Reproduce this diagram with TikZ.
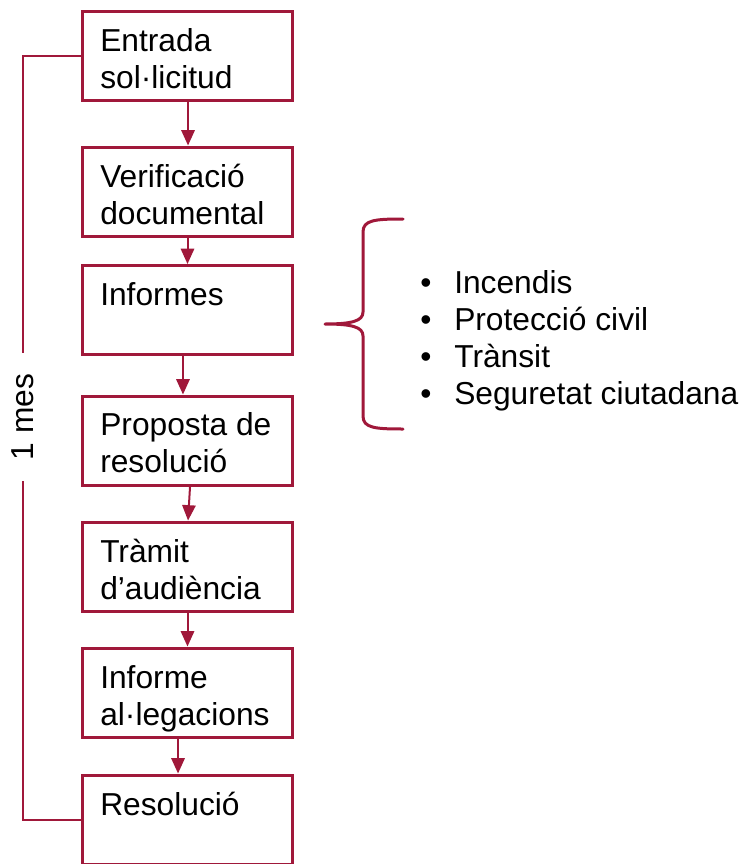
\documentclass[tikz,border=0pt]{standalone}
\usepackage{fontspec}
\setmainfont{Liberation Sans}
\usetikzlibrary{arrows.meta}
\definecolor{crim}{RGB}{160,24,58}
\begin{document}
\begin{tikzpicture}[x=0.75pt,y=-0.75pt,
  box/.style={draw=crim,line width=2.25pt,minimum width=157.5pt,minimum height=66.75pt,inner sep=0pt},
  txt/.style={anchor=base west,inner sep=0pt,font=\fontsize{23.8pt}{28.3pt}\selectfont},
  arr/.style={draw=crim,line width=1.5pt,-{Triangle[width=10pt,length=11.5pt]}},
  thinl/.style={draw=crim,line width=1.5pt},
  bracestyle/.style={draw=crim,line width=2.25pt,line join=round,line cap=round}]
\useasboundingbox (0,0) rectangle (746,864);
% boxes
\node[box] (b1) at (187.5,55.5) {};
\node[box] (b2) at (187.5,191.5) {};
\node[box] (b3) at (187.5,310) {};
\node[box] (b4) at (187.5,440.5) {};
\node[box] (b5) at (187.5,566.5) {};
\node[box] (b6) at (187.5,692.5) {};
\node[box] (b7) at (187.5,819.5) {};
% texts
\node[txt] (t1) at (100,51) {\begin{tabular}[t]{@{}l@{}}Entrada\\sol·licitud\end{tabular}};
\node[txt] (t2) at (100,187) {\begin{tabular}[t]{@{}l@{}}Verificació\\documental\end{tabular}};
\node[txt] (t3) at (100,305) {Informes};
\node[txt] (t4) at (100,435) {\begin{tabular}[t]{@{}l@{}}Proposta de\\resolució\end{tabular}};
\node[txt] (t5) at (100,562) {\begin{tabular}[t]{@{}l@{}}Tràmit\\d’audiència\end{tabular}};
\node[txt] (t6) at (100,688) {\begin{tabular}[t]{@{}l@{}}Informe\\al·legacions\end{tabular}};
\node[txt] (t7) at (100,815) {Resolució};
% arrows
\draw[arr] ([xshift=0.4pt]b1.south) -- ([xshift=0.4pt]b2.north);
\draw[arr] (b2.south) -- (b3.north);
\draw[arr] ([xshift=-3.4pt]b3.south) -- ([xshift=-3.4pt]b4.north);
\draw[arr] ([xshift=1.9pt]b4.south) -- ([xshift=0.4pt]b5.north);
\draw[arr] (b5.south) -- (b6.north);
\draw[arr] ([xshift=-7.1pt]b6.south) -- ([xshift=-7.1pt]b7.north);
% 1 mes bracket
\node[rotate=90,inner xsep=15.5pt,inner ysep=0pt,font=\fontsize{23.8pt}{28.3pt}\selectfont] (mes) at (23,417) {1 mes};
\draw[thinl] (b1.west) -| (mes.east);
\draw[thinl] (b7.west) -| (mes.west);
% brace
\draw[bracestyle] (403,219) .. controls (375,219) and (363,220) .. (363,232) -- (363,312)
  .. controls (363,321) and (352,324) .. (325,324)
  .. controls (352,324) and (363,327) .. (363,336) -- (363,416)
  .. controls (363,428) and (375,429) .. (403,429);
% bullet list
\node[txt] (list) at (420,293) {\begin{tabular}[t]{@{}p{25.5pt}@{}l@{}}
•&Incendis\\[-0.4pt]
•&Protecció civil\\[-0.4pt]
•&Trànsit\\[-0.4pt]
•&Seguretat ciutadana
\end{tabular}};
\end{tikzpicture}
\end{document}
